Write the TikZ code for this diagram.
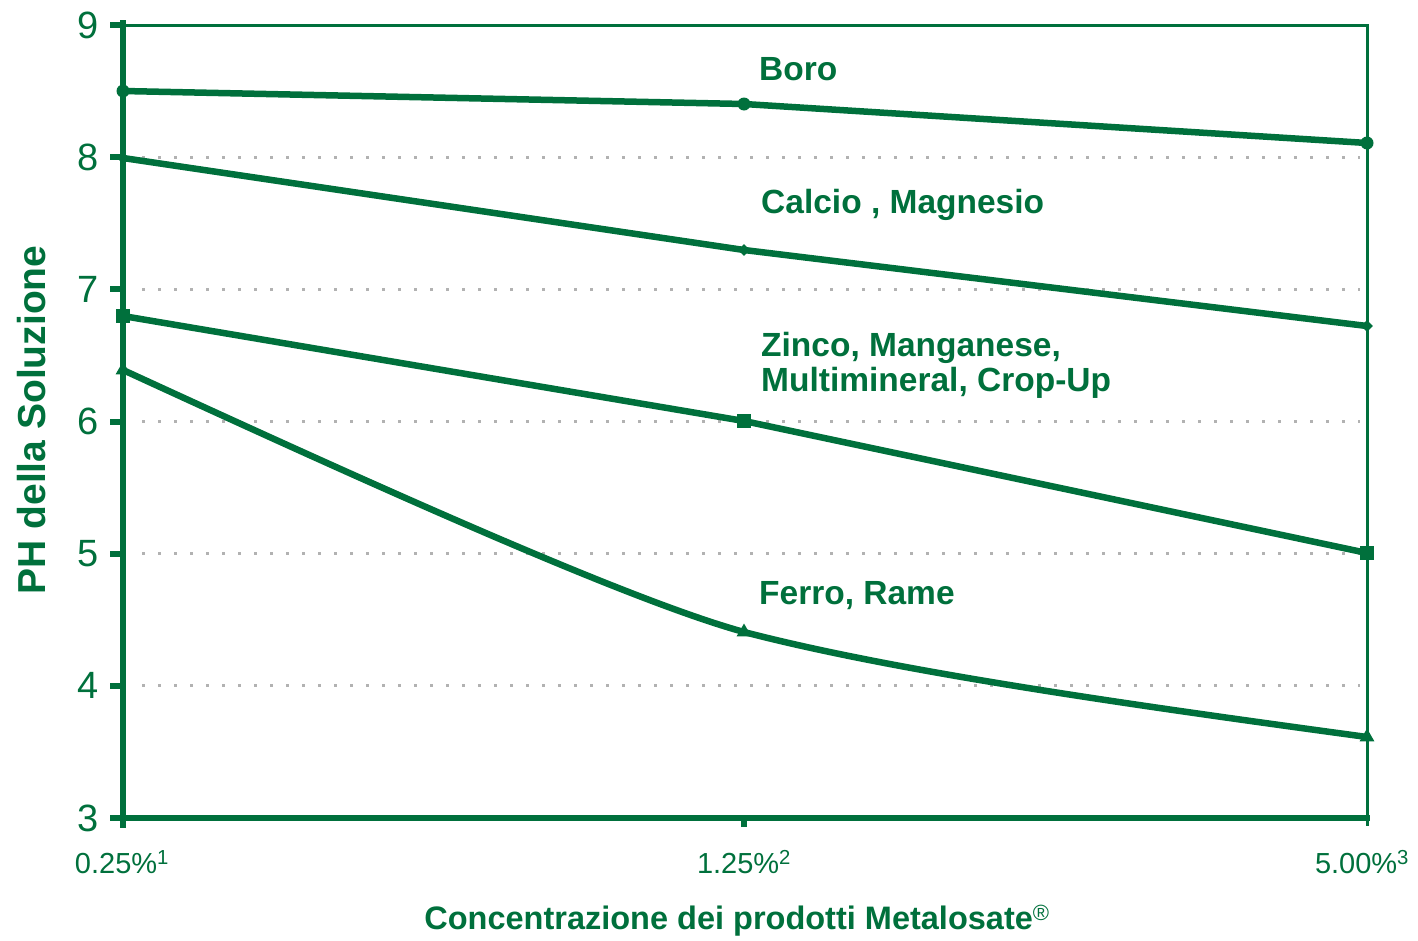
\documentclass[tikz,border=0pt]{standalone}
\usepackage{fontspec}
\setmainfont{Liberation Sans}
\usetikzlibrary{shapes.geometric}
\definecolor{grn}{RGB}{0,112,60}
\begin{document}
\begin{tikzpicture}[x=1pt,y=-1pt,
  dataline/.style={draw=grn,line width=6.5pt,line join=round},
  thickax/.style={draw=grn,line width=6pt},
  thinax/.style={draw=grn,line width=3pt},
  grid/.style={draw=gray!60,line width=3pt,dash pattern=on 2.5pt off 13.5pt},
  dotmk/.style={circle,fill=grn,inner sep=0pt,minimum size=13pt},
  diamk/.style={diamond,fill=grn,inner sep=0pt,minimum size=12pt},
  sqmk/.style={rectangle,fill=grn,inner sep=0pt,minimum size=14pt},
  trimk/.style={regular polygon,regular polygon sides=3,fill=grn,inner sep=0pt,minimum size=17pt},
  lbl/.style={text=grn,font=\fontsize{33.5}{35}\selectfont\bfseries,anchor=west,inner sep=0pt,align=left},
  ytick/.style={text=grn,font=\fontsize{38}{42}\selectfont,anchor=east,inner sep=0pt},
  xtick/.style={text=grn,font=\fontsize{29}{32}\selectfont,inner sep=0pt},
  title/.style={text=grn,font=\fontsize{32.5}{36}\selectfont\bfseries,inner sep=0pt}]
\useasboundingbox (0,0) rectangle (1418,940);
% grid lines
\foreach \yy in {157.2,289.3,421.5,553.7,685.8}
  \draw[grid] (142,\yy) -- (1360,\yy);
% frame
\coordinate (tl) at (123,25);
\coordinate (tr) at (1367,25);
\coordinate (br) at (1367,826);
\coordinate (bl) at (123,828);
\draw[thinax] (tl) -- (tr) -- (br);
\draw[thickax] (123,20) -- (bl);
\draw[thickax] (120,818) -- (1370,818);
\draw[thickax] (744,818) -- (744,827);
% y ticks and labels
\foreach \v/\yy in {9/25,8/157.2,7/289.3,6/421.5,5/553.7,4/685.8,3/818}{
  \draw[thickax] (110,\yy) -- (123,\yy);
  \node[ytick] at (99,\yy) {\v};
}
% data points
\node[dotmk] (b1) at (123,91) {};
\node[dotmk] (b2) at (744,104) {};
\node[dotmk] (b3) at (1367,143) {};
\node[diamk] (c1) at (123,158) {};
\node[diamk] (c2) at (744,250) {};
\node[diamk] (c3) at (1367,326) {};
\node[sqmk] (z1) at (123,316) {};
\node[sqmk] (z2) at (744,421) {};
\node[sqmk] (z3) at (1367,553) {};
\node[trimk] (f1) at (123,370) {};
\node[trimk] (f2) at (744,632) {};
\node[trimk] (f3) at (1367,737) {};
% lines
\draw[dataline] (b1.center) -- (b2.center) -- (b3.center);
\draw[dataline] (c1.center) -- (c2.center) -- (c3.center);
\draw[dataline] (z1.center) -- (z2.center) -- (z3.center);
\draw[dataline] (f1.center) .. controls (330,465) and (620,598) .. (f2.center)
  .. controls (894,671) and (1117,703) .. (f3.center);
% series labels
\node[lbl] (lb) at (759,69) {Boro};
\node[lbl] (lc) at (761,205) {Calcio , Magnesio};
\node[lbl] (lz) at (761,365) {Zinco, Manganese,\\Multimineral, Crop-Up};
\node[lbl] (lf) at (759,596) {Ferro, Rame};
% x tick labels
\node[xtick] (x1) at (122,862) {0.25\%\textsuperscript{1}};
\node[xtick] (x2) at (744,862) {1.25\%\textsuperscript{2}};
\node[xtick] (x3) at (1362,862) {5.00\%\textsuperscript{3}};
% axis titles
\node[title] (xt) at (737,921) {Concentrazione dei prodotti Metalosate\textsuperscript{\fontsize{22}{24}\selectfont\textmd{®}}};
\node[title,rotate=90,font=\fontsize{39}{42}\selectfont\bfseries] (yt) at (32,420) {PH della Soluzione};
\end{tikzpicture}
\end{document}
